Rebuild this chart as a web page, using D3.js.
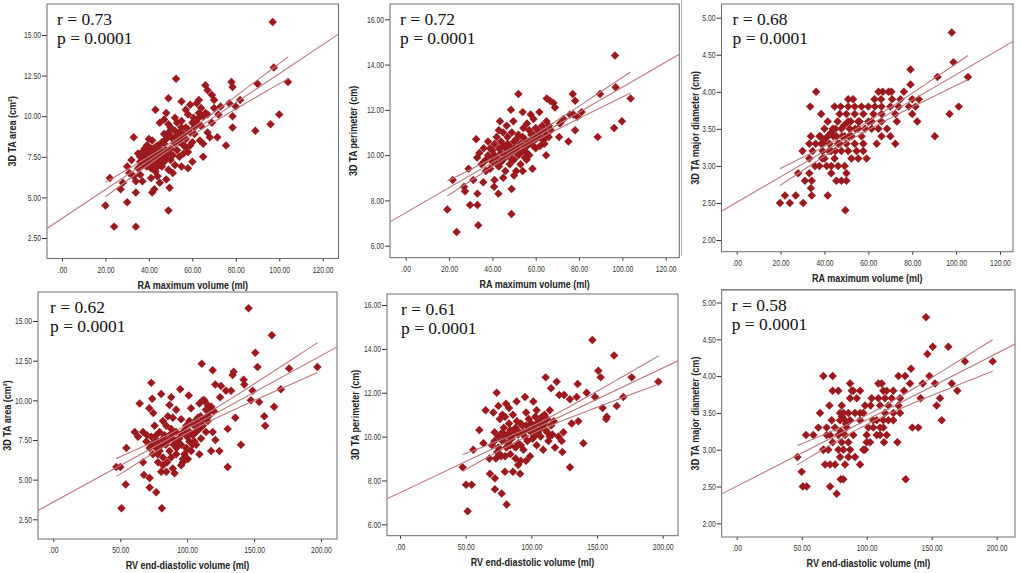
<!DOCTYPE html>
<html>
<head>
<meta charset="utf-8">
<script src="https://cdn.jsdelivr.net/npm/d3@7"></script>
<style>
  html, body { margin: 0; padding: 0; background: #fff; }
  svg { display: block; }
</style>
</head>
<body>
<svg id="chart" width="1021" height="573"></svg>
<script>
// ---------------- DATA ----------------
const raTicks = [0, 20, 40, 60, 80, 100, 120];
const rvTicks = [0, 50, 100, 150, 200];
const areaTicks = [2.5, 5, 7.5, 10, 12.5, 15];
const perimTicks = [6, 8, 10, 12, 14, 16];
const diamTicks = [2, 2.5, 3, 3.5, 4, 4.5, 5];

const xTitles = ["RA maximum volume (ml)", "RA maximum volume (ml)", "RA maximum volume (ml)",
                 "RV end-diastolic volume (ml)", "RV end-diastolic volume (ml)", "RV end-diastolic volume (ml)"];
const yTitles = ["3D TA area (cm²)", "3D TA perimeter (cm)", "3D TA major diameter (cm)",
                 "3D TA area (cm²)", "3D TA perimeter (cm)", "3D TA major diameter (cm)"];
const rValues = ["0.73", "0.72", "0.68", "0.62", "0.61", "0.58"];
const pValues = ["0.0001", "0.0001", "0.0001", "0.0001", "0.0001", "0.0001"];

// Panel 1: RA maximum volume vs 3D TA area
const raArea = [
[97,15.8],[24,3.2],[34,3.2],[20,4.5],[49,4.2],[22,6.2],[30,4.7],[34,5.3],[27,5.5],[28,5.9],
[52.5,12.3],[49,11.1],[55,10.9],[59,10.7],[62,10.8],[66,11.9],[67,11.6],[69,11.3],[78,12.1],[78.5,11.8],
[97.5,13.0],[90,12.0],[104,12.1],[100,10.1],[96,9.5],[89,9.1],[78.5,9.3],[78.5,10.0],[82,11.0],[80,10.6],
[77,10.8],[73,10.6],[70,10.5],[71.5,8.7],[75.5,8.2],[65,7.5],[72,10.1],[69,9.6],[43,10.4],[48,10.2],
[33,8.7],[40,8.6],[41.5,8.5],[58,10.1],[60.5,9.9],[55,9.7],[57,9.3],[63,10.2],[65,10.0],[66,10.2],
[61,8.9],[63.5,8.5],[65,8.3],[55,6.9],[58,6.8],[49,6.7],[51,6.5],[48,6.1],[45,5.9],[42.5,5.5],
[41.5,5.3],[49.5,5.6],[37,6.0],[33,6.3],[31,6.5],[35,6.8],[30,6.9],[32,7.3],[35,7.7],[38,7.4],
[39,7.2],[40,7.6],[41,7.3],[42,7.5],[43,7.8],[44,7.1],[45,7.4],[46,7.7],[47,7.2],[48,7.9],
[39,6.9],[41,6.8],[43,6.6],[37,7.0],[36,7.5],[38,8.0],[40,8.1],[44,8.2],[46,8.4],[47,8.9],
[49,9.0],[50,9.3],[52,9.1],[51,8.6],[53,8.8],[54,8.4],[55,8.6],[56,8.9],[57,8.1],[53,7.9],
[51,7.6],[50,7.3],[52,7.0],[54,7.5],[56,7.7],[45,9.6],[47,9.8],[49,9.5],[52,9.9],[53,9.6],
[44,6.3],[46,6.9],[42,8.0],[60,8.4],[59,9.0],[62,9.6],[64,9.4],[67,9.0],[68,8.7],[60,7.2],
[58,7.8],[36,6.4],[34,6.0],[40,7.9],[45,8.0],[41,6.2],[50,8.0],[57,10.4],[63,11.0],[70,11.0],
[38,7.6],[39,7.8],[40,7.3],[41,7.7],[42,7.2],[43,7.4],[44,7.6],[45,7.1],[46,7.3],[47,7.6],
[48,7.4],[49,7.7],[41,8.0],[43,8.1],[39,8.2],[37,7.8],[36,7.2],[44,6.9],[42,6.9],[40,7.0],
[47,8.3],[48,8.6],[50,8.8],[52,8.3],[54,9.0],[55,9.3],[57,8.6],[58,9.2],[59,8.2],[56,8.2],
[53,8.5],[61,9.3],[63,9.9],[64,10.5],[67,10.1],[60,9.6]
];

// Panel 2: RA maximum volume vs 3D TA perimeter
const raPerim = [
[96.6,14.4],[23.5,6.6],[33.5,6.9],[19.2,7.6],[48.8,7.4],[21.7,8.9],[29.7,7.8],[33.1,7.8],[33.1,8.3],[27.4,8.4],
[26.9,8.6],[42.8,8.3],[40.8,8.6],[48.9,8.5],[52,12.7],[48.6,12.0],[54,11.9],[57.7,11.8],[61.7,11.9],[65.1,12.5],
[66.6,12.4],[68.2,12.3],[68.9,12.1],[77.1,12.7],[78.2,12.4],[89.7,12.7],[96.9,13.0],[103.8,12.5],[99.8,11.5],[96.2,11.2],
[88.6,10.8],[78.2,11.1],[75.1,10.6],[70.8,10.8],[64.8,10.0],[77.4,11.8],[81.2,11.9],[79.2,11.7],[75.8,11.8],[72.8,11.6],
[71.2,11.4],[43.5,11.5],[46.6,11.3],[49.7,11.5],[54.3,11.2],[32.5,10.7],[29,9.4],[31.2,8.9],[35.8,8.8],[58.5,9.4],
[55.8,9.8],
[33,9.9],[34,10.1],[35,9.6],[36,10.3],[37,9.8],[38,10.0],[39,9.4],[40,10.2],[40,9.7],[41,10.5],
[42,9.9],[42,10.8],[43,9.5],[44,10.1],[44,10.6],[45,9.8],[45,11.0],[46,10.3],[46,9.3],[47,10.0],
[47,10.8],[48,9.6],[48,10.4],[49,10.1],[49,11.0],[50,9.8],[50,10.6],[51,10.2],[51,9.3],[52,10.9],
[52,10.0],[53,10.5],[53,9.6],[54,10.2],[55,10.7],[55,9.9],[56,10.4],[57,11.1],[57,10.0],[58,10.6],
[59,10.9],[60,10.3],[60,11.2],[61,10.8],[62,11.0],[62,10.4],[63,10.7],[64,11.1],[64,10.5],[65,10.9],
[66,11.3],[37,9.3],[41,8.9],[45,9.0],[50,9.1],[54,9.3],[43,11.1],[38,10.6],[56,11.4],[59,11.6],
[39,10.3],[41,10.0],[43,10.3],[44,9.7],[46,10.0],[47,10.5],[48,10.2],[49,9.8],[50,10.3],[51,10.7],
[52,10.4],[53,10.1],[54,10.8],[55,10.4],[56,10.1],[57,10.6],[58,10.9],[59,10.4],[60,10.7],[61,11.1],
[62,10.8],[63,11.3],[64,10.7],[65,11.5],[66,10.8],[67,11.1],[45,10.4],[42,9.6],[36,9.7],[40,9.9]
];

// Panel 3: RA maximum volume vs 3D TA major diameter
const raDiam = [
[98,4.8],[98.8,4.4],[91.5,4.2],[105.4,4.2],[79.2,4.3],[79.2,4.1],[76.2,4.0],[64.6,4.0],[66.6,4.0],[69.2,4.0],[70.5,4.0],[36.2,4.0],
[74.6,3.9],[62.8,3.9],[65.8,3.9],[83,3.9],[50.8,3.9],[53,3.9],[70.8,3.9],[80,3.9],
[97,3.7],[101.2,3.8],[90.3,3.4],
[33.5,3.8],[44.6,3.8],[47.4,3.8],[50.8,3.8],[53.8,3.8],[56.9,3.8],[60,3.8],[63,3.8],[66,3.8],[70,3.8],[73.8,3.8],[78.5,3.8],[81.5,3.8],
[38.5,3.7],[46.9,3.7],[50,3.7],[53.8,3.7],[57.7,3.7],[62.3,3.7],[66,3.7],[72.3,3.7],[80,3.7],
[41.5,3.6],[46,3.6],[50.8,3.6],[55.4,3.6],[60,3.6],[61.5,3.6],[66,3.6],[73,3.6],[82.3,3.6],
[40,3.5],[43.8,3.5],[47.7,3.5],[51.5,3.5],[55.4,3.5],[58.5,3.5],[61.5,3.5],[64.6,3.5],[68.5,3.5],
[33.8,3.4],[37.7,3.4],[41.5,3.4],[45.4,3.4],[49.2,3.4],[52.3,3.4],[56.9,3.4],[66,3.4],[70,3.4],
[33.1,3.3],[38.5,3.3],[42.3,3.3],[46.2,3.3],[50,3.3],[53.8,3.3],[57.7,3.3],[63.8,3.3],[72.3,3.3],
[30,3.2],[34.6,3.2],[39.2,3.2],[43.1,3.2],[47.7,3.2],[50.8,3.2],[54.6,3.2],[57.7,3.2],
[33.1,3.1],[40,3.1],[44.6,3.1],[52.3,3.1],[55.4,3.1],[59.2,3.1],
[35.7,3.0],[37.7,3.0],[43.1,3.0],[46.2,3.0],[49.2,3.0],
[28,2.9],[33.1,2.9],[43.1,2.9],[50,2.9],
[31.1,2.8],[34.2,2.8],[45.4,2.8],[47.7,2.8],[50,2.8],
[33.8,2.7],
[22,2.6],[26.9,2.6],[34.2,2.6],[41.5,2.6],
[19.7,2.5],[24.2,2.5],[30.3,2.5],
[49.5,2.4],
[38,3.4],[39,3.3],[44,3.4],[48,3.4],[36,3.3],[42,3.2],[45,3.5],[52,3.6],
[40,3.35],[43,3.45],[47,3.3],[49,3.55],[51,3.4],[54,3.5],[45,3.2],[41,3.0],[39,3.1],[56,3.6]
];

// Panel 4: RV end-diastolic volume vs 3D TA area
const rvArea = [
[145.9,15.8],[163.3,14.1],[150.9,13.0],[152.6,12.1],[176.2,12.0],[197.3,12.1],[170,10.7],[165,9.6],[157.6,9.0],[158.3,8.4],
[153.8,9.9],[147.6,10.0],[148.9,10.6],[142.7,11.0],[142.2,11.3],[134,11.6],[134.7,11.8],[110.9,12.3],[119.1,11.9],[73.2,11.1],
[73.9,10.1],[80.6,10.4],[64.5,9.8],[71.7,9.5],[74.7,9.2],[88.1,10.2],[94.8,10.7],[101.2,10.3],[102.9,9.5],[112.9,10.0],
[121,11.0],[125.3,10.9],[129,10.6],[132.8,10.6],[124.6,10.2],[136,8.9],[130.3,8.2],[140.2,7.2],[130.3,5.8],[117.9,6.8],
[124.1,6.8],[121.1,7.5],[47.1,5.8],[50.1,5.8],[54.6,7.0],[54.1,4.7],[50.9,3.2],[81.1,3.2],[72,5.1],[76.9,4.2],
[72,4.5],[67.7,5.3],[67,6.1],[75.7,8.4],[60.8,8.0],[63.3,7.7],
[69.5,7.4],[73.2,7.2],[76.9,7.0],[79.4,6.8],[74.4,6.6],[78.2,6.1],[81.9,5.9],[80.6,5.5],[84.4,5.5],[89.3,5.7],
[90.6,5.4],[86.8,6.8],[83.1,7.4],[89.3,7.6],[93.1,7.4],[95.5,7.2],[99.3,7.0],[101.7,7.4],[104.2,7.8],[106.7,8.0],
[109.2,8.2],[111.7,8.4],[114.1,8.9],[116.6,9.3],[115.4,8.7],[110.4,7.6],[106.7,7.2],[103,6.8],[100.5,6.3],[96.8,6.1],
[95.5,5.9],[91.8,8.0],[88.1,8.2],[84.4,8.4],[81.9,8.7],[85.6,9.0],[89.3,8.9],[95.5,8.8],[99.3,8.4],[101.7,8.7],
[105.5,8.4],[107.9,8.9],[96.8,6.3],[91.8,6.6],[76.9,7.8],[79.4,8.0],[83.1,7.8],
[109.2,9.8],[111.7,10.0],[115.4,9.7],[119.1,9.4],[86.8,9.7],[91.8,9.4],[73.2,7.7],[67,8.0],[109.2,6.6],[105.5,7.4],
[114.1,8.0],[119.1,8.0],
[78,7.4],[80,7.1],[82,7.6],[84,7.2],[86,7.5],[88,7.9],[90,7.2],[92,7.0],[94,7.6],[96,7.9],
[98,8.1],[100,7.7],[102,8.0],[104,8.5],[106,8.7],[108,8.6],[110,9.0],[112,8.8],[114,9.4],[116,9.0],
[118,9.6],[120,9.3],[88,6.4],[85,6.1],[82,6.4],[78,6.6],[76,7.4],[72,7.0],[70,7.8],[98,6.6],
[100,6.9],[104,7.2]
];

// Panel 5: RV end-diastolic volume vs 3D TA perimeter
const rvPerim = [
[146.4,14.4],[163,13.7],[151,13.0],[152.8,12.7],[176.4,12.7],[196.7,12.5],[170,11.8],[165,11.4],[157.4,10.9],[157,10.8],
[154.3,11.3],[148.5,11.8],[142.1,12.0],[134.5,11.8],[135.3,12.4],[110.9,12.7],[119.3,12.5],[115,12.2],[121.3,11.9],[129.4,11.7],
[124.9,11.9],[73.6,12.0],[74.9,11.4],[80.7,11.5],[65.2,11.2],[71.1,11.1],[60.4,10.3],[63.5,9.7],[55.8,9.4],[68,9.0],
[47.7,8.6],[50.3,7.8],[54.6,7.8],[51.5,6.6],[81.2,6.9],[68.5,8.3],[72.3,8.1],[72.3,7.6],[77.4,7.4],[79.9,8.4],
[91.4,8.3],[129.4,8.6],[139.6,9.7],[135.8,10.7],[130.7,10.6],[124.4,10.2],[123.1,9.8],[123.6,9.3],[118,9.5],[120.6,10.0],
[95.2,11.8],[101.5,11.6],[88.8,11.6],
[70,9.6],[72,10.2],[74,9.3],[75,10.0],[76,10.8],[77,9.1],[78,9.8],[79,10.4],[80,10.9],[81,9.5],
[82,10.1],[83,10.6],[84,9.2],[85,9.9],[86,11.0],[87,10.3],[88,9.0],[89,10.7],[90,9.7],[91,10.2],
[92,8.9],[93,10.5],[94,9.4],[95,10.0],[96,11.1],[97,9.8],[98,10.3],[99,9.1],[100,10.6],[101,9.9],
[102,10.4],[103,10.9],[104,9.6],[105,10.2],[106,10.7],[107,10.0],[108,10.5],[109,9.4],[110,11.0],[111,10.3],
[112,10.8],[113,9.8],[114,11.2],[115,10.5],[116,10.1],[117,10.7],[86,8.4],[90,8.7],[96,8.9],[83,11.3],
[78,11.0],[104,11.2],
[72,9.8],[75,9.5],[78,10.2],[80,10.0],[82,9.7],[84,10.3],[86,10.1],[88,10.4],[90,10.1],[92,10.6],
[94,10.2],[96,10.5],[98,10.8],[100,10.2],[102,10.0],[104,10.6],[106,10.3],[108,10.9],[110,10.6],[112,10.2],
[114,10.0],[88,9.5],[92,9.6],[84,9.6],[76,9.2],[80,9.1],[73,9.0]
];

// Panel 6: RV end-diastolic volume vs 3D TA major diameter
const rvDiam = [
[145.6,4.8],[146.7,4.3],[150.8,4.4],[162.8,4.4],[175.6,4.2],[196.9,4.2],[148.2,4.0],[152.6,3.9],[165.4,3.9],[169.7,3.8],
[156.4,3.7],[153.8,3.6],[157.7,3.4],[143.1,3.9],[141.5,3.7],[139.7,3.3],[135.1,3.3],[134.1,4.1],[133.3,3.9],[129.5,4.0],
[124.4,4.0],[128.7,3.8],[130,2.6],[123.6,3.1],[66.7,4.0],[73.8,4.0],[46.7,2.9],[50,2.7],[50.8,2.5],[53.8,2.5],
[71.8,2.5],[76.9,2.4],[80,2.6],[82,2.6],[53.3,3.2],[59,3.2],[62.8,3.3],[64.1,3.5],[66.7,3.0],[68,2.8],
[71.8,2.8],[75.6,2.8],[71.3,3.6],[73.8,3.8],[78.2,3.8],
[87.2,3.9],[109,3.9],[111.5,3.9],
[88.5,3.8],[89.7,3.8],[94.9,3.8],[112.8,3.8],[115.4,3.8],[120.5,3.8],
[87.2,3.7],[92.3,3.7],[103.8,3.7],[109,3.7],[114.1,3.7],[119.2,3.7],[125.6,3.7],
[80.8,3.6],[98.7,3.6],[110.3,3.6],[116.7,3.6],[124.4,3.6],
[79.5,3.5],[82.1,3.5],[85.9,3.5],[91,3.5],[94.9,3.5],[97.4,3.5],[114.1,3.5],[120.5,3.5],[125.6,3.5],
[73.1,3.4],[79.5,3.4],[83.3,3.4],[87.2,3.4],[94.9,3.4],[107.7,3.4],[112.8,3.4],[116.7,3.4],[120.5,3.4],
[69.2,3.3],[75.6,3.3],[84.6,3.3],[101.3,3.3],[105.1,3.3],[110.3,3.3],[112.8,3.3],
[69.2,3.2],[71.8,3.2],[78.2,3.2],[83.3,3.2],[89.7,3.2],[100,3.2],[107.7,3.2],[110.3,3.2],[115.4,3.2],
[73.8,3.1],[80.8,3.1],[85.9,3.1],[102.6,3.1],[113.3,3.1],
[66.7,3.0],[70.5,3.0],[78.2,3.0],[82.1,3.0],[87.2,3.0],[97.4,3.0],[98.7,3.0],
[79.5,2.9],[85.9,2.9],[91,2.9],
[83.3,2.8],[94.9,2.8],
[81,3.45],[84,3.35],[80,3.25],[103,3.6],[105,3.4],[100,3.1]
];

// ---------------- LAYOUT (pixel calibration of each panel) ----------------
const panelData = [raArea, raPerim, raDiam, rvArea, rvPerim, rvDiam];
const panelXTicks = [raTicks, raTicks, raTicks, rvTicks, rvTicks, rvTicks];
const panelYTicks = [areaTicks, perimTicks, diamTicks, areaTicks, perimTicks, diamTicks];
const layout = [
  { frame: [47, 4, 338.5, 258.5],  xCal: [[0, 62], [120, 322.7]],   yCal: [[15, 35], [2.5, 238]],    yTitleX: 12,  textX: 10 },
  { frame: [390, 4, 679.3, 257.7], xCal: [[0, 405.7], [120, 665.7]], yCal: [[16, 19.3], [6, 245.7]], yTitleX: 353, textX: 10 },
  { frame: [721.5, 4, 1013, 251.7], xCal: [[0, 736.7], [120, 1000]], yCal: [[5, 17.7], [2, 240]],    yTitleX: 695, textX: 11 },
  { frame: [38, 292, 337, 539],   xCal: [[0, 53.3], [200, 321]],   yCal: [[15, 321], [2.5, 519.3]], yTitleX: 7,   textX: 12 },
  { frame: [387, 294, 678, 535.7], xCal: [[0, 400], [200, 662.7]],  yCal: [[16, 305], [6, 524.3]],   yTitleX: 355, textX: 14 },
  { frame: [721.7, 290, 1015, 537], xCal: [[0, 736.7], [200, 996.7]], yCal: [[5, 302.5], [2, 523.3]], yTitleX: 695, textX: 10 }
];

const POINT_COLOR = "#9c1a1e";
const LINE_COLOR = "#ba7a7e";
const FRAME_COLOR = "#6a6a6a";
const TICK_FONT = "'Liberation Sans', Arial, sans-serif";
const TICK_SQUEEZE = 0.8;

const svg = d3.select("#chart");

// faint scan artifacts visible in the reference
svg.append("line").attr("x1", 681.5).attr("x2", 681.5).attr("y1", 0).attr("y2", 256)
  .attr("stroke", "#b0b0b0").attr("stroke-width", 1);
svg.append("line").attr("x1", 721).attr("x2", 1012).attr("y1", 289.5).attr("y2", 289.5)
  .attr("stroke", "#9a9a9a").attr("stroke-width", 1);

function fmt(v) {
  const s = d3.format(".2f")(v);
  return s.startsWith("0.") ? s.slice(1) : s;
}

function regression(data) {
  const n = data.length;
  const mx = d3.mean(data, d => d[0]);
  const my = d3.mean(data, d => d[1]);
  const sxx = d3.sum(data, d => (d[0] - mx) ** 2);
  const sxy = d3.sum(data, d => (d[0] - mx) * (d[1] - my));
  const b = sxy / sxx;
  const a = my - b * mx;
  const sse = d3.sum(data, d => (d[1] - a - b * d[0]) ** 2);
  const s = Math.sqrt(sse / (n - 2));
  return { n, mx, sxx, a, b, s };
}

const diamond = d3.symbol().type(d3.symbolSquare).size(36)();

layout.forEach((L, i) => {
  const data = panelData[i];
  const [fx0, fy0, fx1, fy1] = L.frame;
  const x = d3.scaleLinear().domain([L.xCal[0][0], L.xCal[1][0]]).range([L.xCal[0][1], L.xCal[1][1]]);
  const y = d3.scaleLinear().domain([L.yCal[0][0], L.yCal[1][0]]).range([L.yCal[0][1], L.yCal[1][1]]);

  const g = svg.append("g");
  const clipId = "clip" + i;
  g.append("clipPath").attr("id", clipId)
    .append("rect").attr("x", fx0).attr("y", fy0).attr("width", fx1 - fx0).attr("height", fy1 - fy0);

  // axes
  const xAxis = g.append("g").attr("transform", `translate(0,${fy1})`)
    .call(d3.axisBottom(x).tickValues(panelXTicks[i]).tickFormat(fmt).tickSize(3).tickPadding(5));
  const yAxis = g.append("g").attr("transform", `translate(${fx0},0)`)
    .call(d3.axisLeft(y).tickValues(panelYTicks[i]).tickFormat(fmt).tickSize(5).tickPadding(1));
  [xAxis, yAxis].forEach(ax => {
    ax.select(".domain").remove();
    ax.selectAll("line").attr("stroke", "#333");
    ax.selectAll("text").attr("fill", "#333").style("font-family", TICK_FONT).style("font-size", "8.5px")
      .attr("transform", `scale(${TICK_SQUEEZE},1)`);
  });
  yAxis.selectAll("text").attr("x", -6 / TICK_SQUEEZE);

  // frame
  g.append("rect").attr("x", fx0).attr("y", fy0).attr("width", fx1 - fx0).attr("height", fy1 - fy0)
    .attr("fill", "none").attr("stroke", FRAME_COLOR).attr("stroke-width", 1);

  // points
  const plot = g.append("g").attr("clip-path", `url(#${clipId})`);
  plot.selectAll("path.pt").data(data).join("path").attr("class", "pt")
    .attr("d", diamond)
    .attr("transform", d => `translate(${x(d[0])},${y(d[1])}) rotate(45)`)
    .attr("fill", POINT_COLOR);

  // regression line with 95% mean confidence band
  const R = regression(data);
  const xd0 = x.invert(fx0), xd1 = x.invert(fx1);
  plot.append("line")
    .attr("x1", x(xd0)).attr("y1", y(R.a + R.b * xd0))
    .attr("x2", x(xd1)).attr("y2", y(R.a + R.b * xd1))
    .attr("stroke", LINE_COLOR).attr("stroke-width", 1.1);
  const [minX, maxX] = d3.extent(data, d => d[0]);
  const xs = d3.range(0, 41).map(k => minX + (maxX - minX) * k / 40);
  const t = 1.976;
  [1, -1].forEach(sign => {
    const line = d3.line().x(v => x(v)).y(v => y(R.a + R.b * v + sign * t * R.s * Math.sqrt(1 / R.n + (v - R.mx) ** 2 / R.sxx)));
    plot.append("path").attr("d", line(xs)).attr("fill", "none")
      .attr("stroke", LINE_COLOR).attr("stroke-width", 1.1);
  });

  // r / p annotation
  g.append("text").attr("x", fx0 + L.textX).attr("y", fy0 + 21)
    .style("font-family", "'Liberation Serif', 'Times New Roman', serif").style("font-size", "17.5px")
    .attr("fill", "#111").text("r = " + rValues[i]);
  g.append("text").attr("x", fx0 + L.textX).attr("y", fy0 + 39.5)
    .style("font-family", "'Liberation Serif', 'Times New Roman', serif").style("font-size", "17.5px")
    .attr("fill", "#111").text("p = " + pValues[i]);

  // axis titles
  const cx = (fx0 + fx1) / 2;
  g.append("text").attr("transform", `translate(${cx},${fy1 + 30}) scale(0.86,1)`)
    .attr("text-anchor", "middle")
    .style("font-family", "'Liberation Sans', Arial, sans-serif").style("font-size", "10.5px").style("font-weight", "bold")
    .attr("fill", "#222").text(xTitles[i]);
  const cy = (fy0 + fy1) / 2;
  g.append("text").attr("transform", `translate(${L.yTitleX},${cy}) rotate(-90) scale(0.86,1)`)
    .attr("text-anchor", "middle").attr("dy", "0.35em")
    .style("font-family", "'Liberation Sans', Arial, sans-serif").style("font-size", "10.5px").style("font-weight", "bold")
    .attr("fill", "#222").text(yTitles[i]);
});
</script>
</body>
</html>
